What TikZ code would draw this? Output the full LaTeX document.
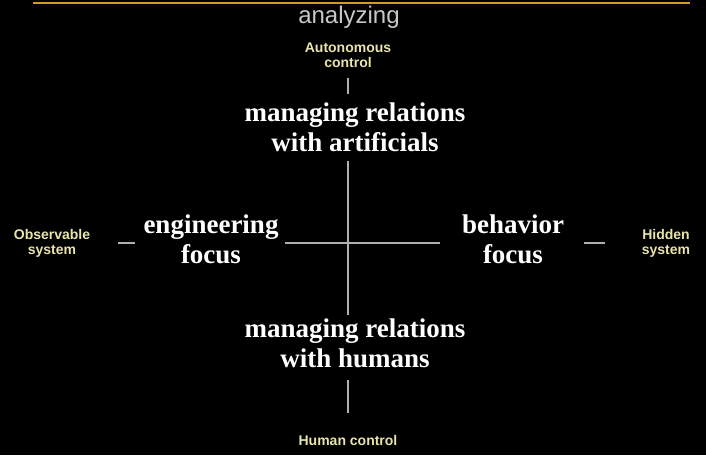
\documentclass[tikz,border=0pt]{standalone}
\usepackage{fontspec}
\setmainfont{Liberation Serif}
\setsansfont{Liberation Sans}
\usepackage{tikz}
\usetikzlibrary{positioning}

\definecolor{rule}{RGB}{214,150,40}
\definecolor{pale}{RGB}{232,228,170}
\definecolor{axis}{RGB}{175,175,175}
\definecolor{faint}{RGB}{200,200,200}

\tikzset{
	bigtext/.style={text=white,font=\fontsize{27}{30}\selectfont\bfseries,align=center,inner sep=0pt},
	smalltext/.style={text=pale,font=\sffamily\bfseries\fontsize{14}{15}\selectfont,align=center,inner sep=0pt},
	axisline/.style={draw=axis,line width=1.6pt}
}

\begin{document}
\begin{tikzpicture}[x=1pt,y=-1pt]
	% background
	\fill[black] (0,0) rectangle (706,455);
	\useasboundingbox (0,0) rectangle (706,455);
	% top rule
	\coordinate (r0) at (33,3);
	\coordinate (r1) at (690,3);
	\draw[rule,line width=2.2pt] (r0) -- (r1);
	\node[text=faint,font=\sffamily\fontsize{24}{24}\selectfont,inner sep=0pt] (title) at (349,17) {analyzing};
	% ends of the axes
	\node[smalltext] (auto) at (348,55) {Autonomous\\control};
	\node[smalltext] (human) at (348,440) {Human control};
	\node[smalltext] (obs) at (52,243) {Observable\\system};
	\node[smalltext] (hid) at (666,243) {Hidden\\system};
	% the four foci
	\node[bigtext] (art) at (355,127) {managing relations\\with artificials};
	\node[bigtext] (hum) at (355,343) {managing relations\\with humans};
	\node[bigtext] (eng) at (211,239) {engineering\\focus};
	\node[bigtext] (beh) at (513,239) {behavior\\focus};
	\coordinate (ctr) at (348,243);
	% vertical axis
	\draw[axisline,shorten <=10pt,shorten >=8pt] (auto.south -| ctr) -- (art.north -| ctr);
	\draw[axisline,shorten <=9pt,shorten >=3pt] (art.south -| ctr) -- (hum.north -| ctr);
	\draw[axisline,shorten <=12pt,shorten >=22pt] (hum.south -| ctr) -- (human.north -| ctr);
	% horizontal axis
	\draw[axisline,shorten <=6pt,shorten >=22pt] (eng.east |- ctr) -- (beh.west |- ctr);
	\draw[axisline,shorten <=28pt,shorten >=8pt] (obs.east |- ctr) -- (eng.west |- ctr);
	\draw[axisline,shorten <=20pt,shorten >=37pt] (beh.east |- ctr) -- (hid.west |- ctr);
\end{tikzpicture}
\end{document}
